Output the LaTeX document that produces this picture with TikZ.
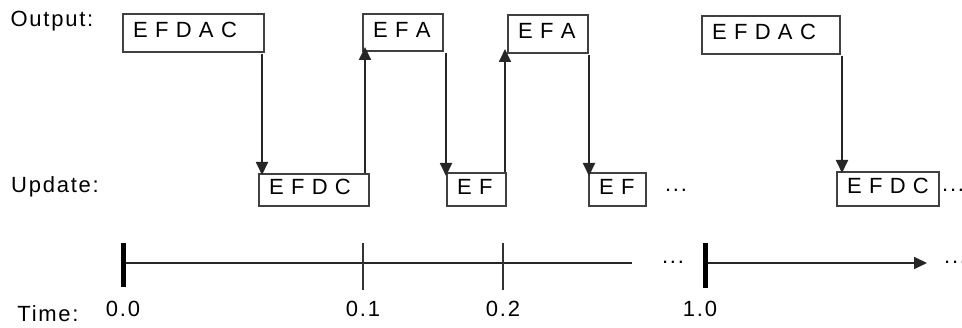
\documentclass[tikz,border=0pt]{standalone}
\usepackage{fontspec}
\setmainfont[LetterSpace=8]{Liberation Sans}
\usetikzlibrary{arrows.meta,calc}
\tikzset{
  lbl/.style={font=\fontsize{22}{24}\selectfont, inner sep=0pt},
  box/.style={draw=black!75, line width=2pt, font=\fontsize{22}{24}\selectfont, anchor=north west,
    inner xsep=10pt, inner ysep=0pt, align=left, text height=16pt, text depth=6pt},
  arr/.style={draw=black!85, line width=1.8pt, -{Triangle[width=12pt,length=13pt]}},
  axis/.style={draw=black!85, line width=1.8pt},
  thicktick/.style={draw=black, line width=5pt},
  thintick/.style={draw=black!80, line width=1.8pt},
}
\begin{document}
\begin{tikzpicture}[x=1pt,y=-1pt]
\useasboundingbox[fill=white] (0,0) rectangle (962,328);
% row labels
\node[lbl] (lout) at (52,21) {Output:};
\node[lbl] (lupd) at (55,187) {Update:};
\node[lbl] (ltime) at (48,314) {Time:};
% output boxes
\node[box, text width=121pt, minimum height=38pt] (o1) at (122,13) {E F D A C};
\node[box, text width=60pt, minimum height=37pt] (o2) at (362,13) {E F A};
\node[box, text width=60pt, minimum height=38pt] (o3) at (507,14) {E F A};
\node[box, text width=118pt, minimum height=38pt] (o4) at (701,15) {E F D A C};
% update boxes
\node[box, text width=90pt, minimum height=32pt] (u1) at (258,173) {E F D C};
\node[box, text width=39pt, minimum height=33pt] (u2) at (446,172) {E F};
\node[box, text width=37pt, minimum height=33pt] (u3) at (588,172) {E F};
\node[box, text width=82pt, minimum height=34pt] (u4) at (836,171) {E F D C};
\node[lbl] (dots1) at (676,190) {...};
\node[lbl, anchor=west] (dots2) at (942,190) {...};
% connectors
\draw[arr] ([xshift=-3pt,yshift=-1pt]o1.south east) -- ([xshift=-3pt,yshift=-2pt]o1.south east |- u1.north) ;
\draw[arr] ([xshift=-5pt]u1.north east) -- ([xshift=-5pt,yshift=5pt]u1.north east |- o2.south);
\draw[arr] ([xshift=2pt,yshift=-1pt]o2.south east) -- ([xshift=2pt,yshift=-4pt]o2.south east |- u2.north);
\draw[arr] ([xshift=-2pt]u2.north east) -- ([xshift=-2pt,yshift=5pt]u2.north east |- o3.south);
\draw[arr] ([xshift=0pt,yshift=-1pt]o3.south east) -- ([yshift=-4pt]o3.south east |- u3.north);
\draw[arr] ([xshift=1pt,yshift=-1pt]o4.south east) -- ([xshift=1pt,yshift=-2pt]o4.south east |- u4.north);
% time axis
\coordinate (t0) at (123,263);
\coordinate (t1) at (363,263);
\coordinate (t2) at (503,263);
\coordinate (tend) at (632,263);
\coordinate (t10) at (705,263);
\coordinate (tarr) at (927,263);
\draw[axis] (t0) -- (tend);
\draw[axis, -{Triangle[width=12pt,length=13pt]}] (t10) -- (tarr);
\draw[thicktick] ([yshift=-24pt]t0) -- ([yshift=20pt]t0);
\draw[thicktick] ([yshift=-25pt]t10) -- ([yshift=20pt]t10);
\draw[thintick] ([yshift=-27pt]t1) -- ([yshift=20pt]t1);
\draw[thintick] ([yshift=-27pt]t2) -- ([yshift=20pt]t2);
\node[lbl] (dots3) at (673,262) {...};
\node[lbl, anchor=west] (dots4) at (944,262) {...};
% tick labels
\node[lbl] (n0) at (123,309) {0.0};
\node[lbl] (n1) at (363,309) {0.1};
\node[lbl] (n2) at (503,309) {0.2};
\node[lbl] (n10) at (700,309) {1.0};
\end{tikzpicture}
\end{document}
